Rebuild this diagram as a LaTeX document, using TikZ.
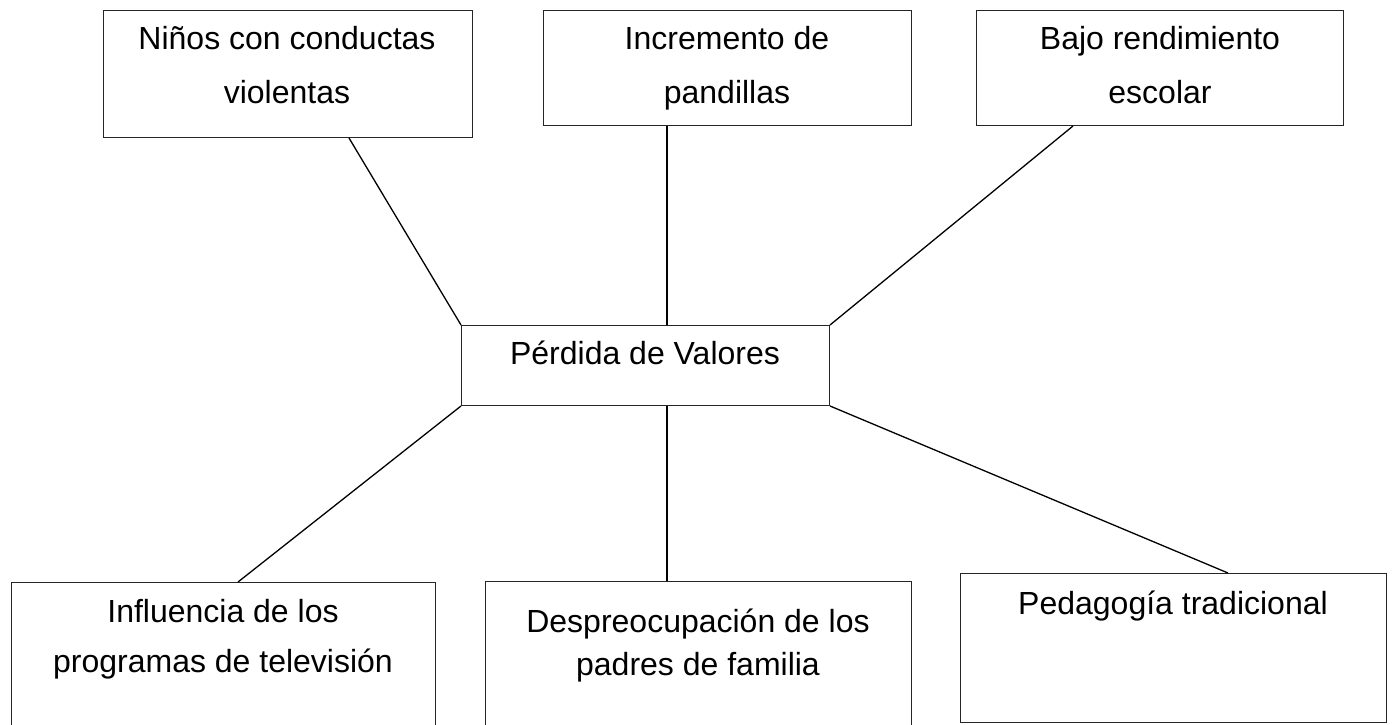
\documentclass[tikz,border=0pt]{standalone}
\usepackage{fontspec}
\setmainfont{Liberation Sans}
\usetikzlibrary{calc}
\begin{document}
\begin{tikzpicture}[x=1pt,y=-1pt,
  boxnode/.style={draw=black!85,line width=1pt,anchor=north west,inner sep=0pt},
  lbl/.style={anchor=base,inner sep=0pt,font=\fontsize{32}{32}\selectfont},
  link/.style={draw=black,line width=1.3pt}]
\clip (0,0) rectangle (1393,725);
\fill[white] (0,0) rectangle (1393,725);
% top boxes
\node[boxnode,minimum width=369pt,minimum height=127pt] (A) at (103,10) {};
\node[boxnode,minimum width=368pt,minimum height=115pt] (B) at (543,10) {};
\node[boxnode,minimum width=367pt,minimum height=115pt] (C) at (976,10) {};
% centre
\node[boxnode,minimum width=368pt,minimum height=80pt] (P) at (461,325) {};
% bottom boxes
\node[boxnode,minimum width=424pt,minimum height=170pt] (D) at (11,582) {};
\node[boxnode,minimum width=426pt,minimum height=170pt] (E) at (485,581) {};
\node[boxnode,minimum width=426pt,minimum height=149pt] (F) at (960,573) {};
% texts
\node[lbl] (a1) at (287,50) {Niños con conductas};
\node[lbl] (a2) at (287,103) {violentas};
\node[lbl] (b1) at (727,50) {Incremento de};
\node[lbl] (b2) at (727,103) {pandillas};
\node[lbl] (c1) at (1160,50) {Bajo rendimiento};
\node[lbl] (c2) at (1160,103) {escolar};
\node[lbl] (p1) at (645,364) {Pérdida de Valores};
\node[lbl] (d1) at (223,622) {Influencia de los};
\node[lbl] (d2) at (223,672) {programas de televisión};
\node[lbl] (e1) at (698,632) {Despreocupación de los};
\node[lbl] (e2) at (698,675) {padres de familia};
\node[lbl] (f1) at (1173,614) {Pedagogía tradicional};
% connectors
\draw[link] ($(A.south west)+(246,0)$) -- (P.north west);
\draw[link] ($(B.south west)+(124,0)$) -- ($(P.north west)+(206,0)$);
\draw[link] ($(C.south west)+(97,0)$) -- (P.north east);
\draw[link] (P.south west) -- ($(D.north west)+(227,0)$);
\draw[link] ($(P.south west)+(206,0)$) -- ($(E.north west)+(182,0)$);
\draw[link] (P.south east) -- ($(F.north west)+(268,0)$);
\end{tikzpicture}
\end{document}
